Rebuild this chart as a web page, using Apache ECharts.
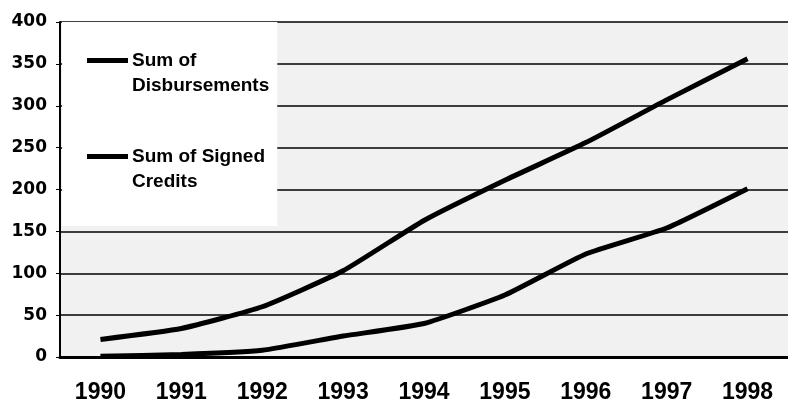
<!DOCTYPE html>
<html>
<head>
<meta charset="utf-8">
<script src="https://cdn.jsdelivr.net/npm/echarts@6/dist/echarts.min.js"></script>
<style>html,body{margin:0;padding:0;background:#fff;}#c{width:788px;height:404px;}</style>
</head>
<body>
<div id="c"></div>
<script>
var years = ['1990','1991','1992','1993','1994','1995','1996','1997','1998'];
var signedCredits = [21, 34, 60, 103, 163, 211, 256, 307, 356];
var disbursements = [1, 3, 8, 25, 40, 74, 123, 154, 201];
var yTicks = [0, 50, 100, 150, 200, 250, 300, 350, 400];
var legendNames = {
  'Sum of Disbursements': '\nSum of\nDisbursements',
  'Sum of Signed Credits': '\nSum of Signed\nCredits'
};

var chart = echarts.init(document.getElementById('c'), null, {renderer: 'canvas'});
chart.setOption({
  animation: false,
  backgroundColor: '#ffffff',
  grid: {
    left: 60, top: 22, width: 740, height: 339,
    show: true, backgroundColor: '#f1f1f1', borderWidth: 0
  },
  legend: {
    orient: 'vertical',
    left: 62, top: 22,
    data: ['Sum of Disbursements', 'Sum of Signed Credits'],
    formatter: function (n) { return legendNames[n]; },
    backgroundColor: '#ffffff',
    icon: 'rect',
    padding: [1, 8, 32, 25],
    itemWidth: 41, itemHeight: 5, itemGap: 21,
    textStyle: {
      fontFamily: 'Liberation Sans', fontWeight: 'bold', fontSize: 19,
      color: '#000', lineHeight: 25, padding: [0, 0, 0, -1]
    }
  },
  xAxis: {
    type: 'category',
    data: years,
    boundaryGap: true,
    axisLine: {show: true, lineStyle: {color: '#000', width: 3}},
    axisTick: {show: false},
    axisLabel: {
      margin: 24, color: '#000',
      fontFamily: 'Liberation Sans', fontWeight: 'bold', fontSize: 23
    },
    splitLine: {show: false}
  },
  yAxis: {
    type: 'value',
    min: yTicks[0], max: yTicks[yTicks.length - 1], interval: 50,
    axisLine: {show: true, lineStyle: {color: '#000', width: 2}},
    axisTick: {show: true, length: 4, lineStyle: {color: '#000', width: 1}},
    axisLabel: {
      margin: 13, color: '#000',
      fontFamily: 'DejaVu Sans', fontWeight: 'bold', fontSize: 17
    },
    splitLine: {show: true, lineStyle: {color: '#000', width: 1.5}}
  },
  series: [
    {
      name: 'Sum of Signed Credits', type: 'line', data: signedCredits,
      symbol: 'none', smooth: 0.15,
      lineStyle: {color: '#000', width: 5}, itemStyle: {color: '#000'}
    },
    {
      name: 'Sum of Disbursements', type: 'line', data: disbursements,
      symbol: 'none', smooth: 0.15,
      lineStyle: {color: '#000', width: 5}, itemStyle: {color: '#000'}
    }
  ]
});
</script>
</body>
</html>
